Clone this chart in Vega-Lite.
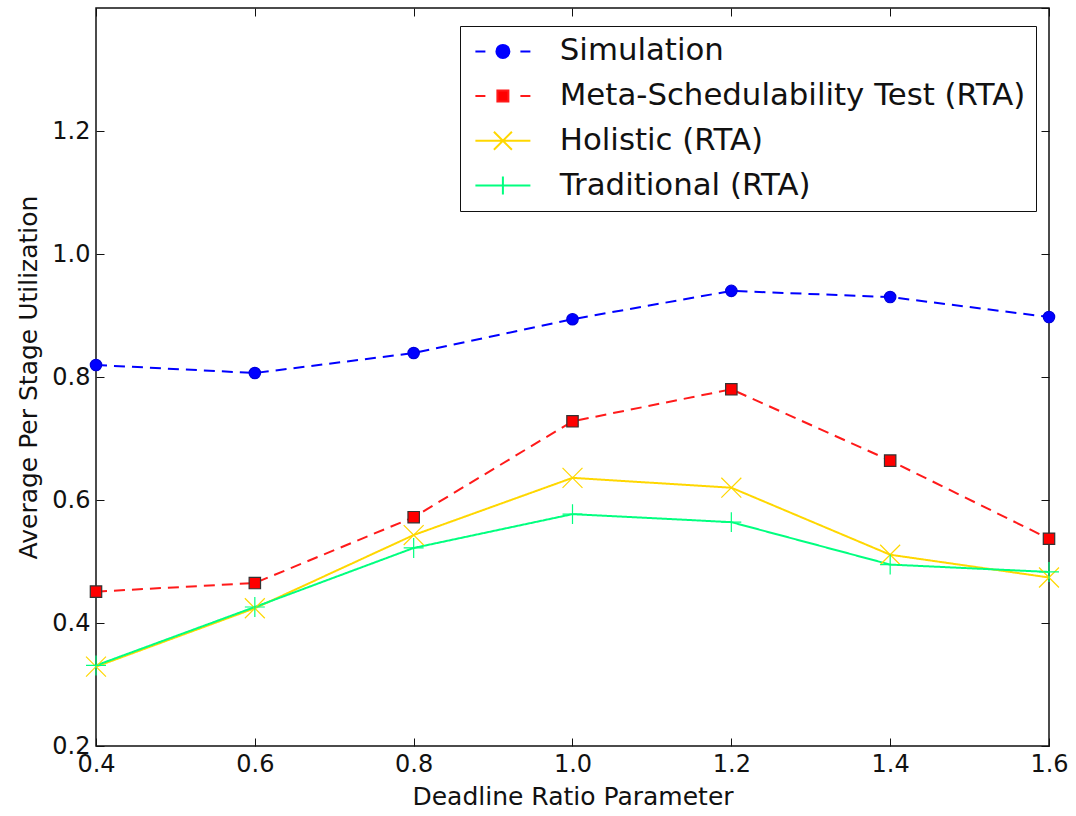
{
  "$schema": "https://vega.github.io/schema/vega-lite/v6.json",
  "width": 953,
  "height": 738,
  "autosize": {"type": "none"},
  "padding": {"left": 96, "top": 8, "right": 27, "bottom": 70},
  "background": "white",
  "config": {
    "view": {"stroke": "#111", "strokeWidth": 1.5},
    "font": "DejaVu Sans",
    "axis": {
      "domain": false, "grid": false, "tickSize": -8, "tickColor": "#111", "tickWidth": 1, "labelFlush": false,
      "labelFont": "DejaVu Sans", "labelFontSize": 24, "labelColor": "#111",
      "titleFont": "DejaVu Sans", "titleFontSize": 25, "titleFontWeight": "normal", "titleColor": "#111"
    },
    "legend": {
      "orient": "none", "legendX": 364, "legendY": 18, "padding": 10,
      "strokeColor": "#111", "fillColor": "white", "cornerRadius": 0,
      "labelFont": "DejaVu Sans", "labelFontSize": 30.8, "labelColor": "#111", "labelLimit": 700,
      "labelOffset": 59, "rowPadding": 12.7, "symbolSize": 400, "symbolStrokeWidth": 2, "symbolOpacity": 1,
      "title": null
    }
  },
  "data": {"values": [
    {"series": "Simulation", "x": 0.4, "y": 0.8195},
    {"series": "Simulation", "x": 0.6, "y": 0.8065},
    {"series": "Simulation", "x": 0.8, "y": 0.839},
    {"series": "Simulation", "x": 1.0, "y": 0.894},
    {"series": "Simulation", "x": 1.2, "y": 0.940},
    {"series": "Simulation", "x": 1.4, "y": 0.930},
    {"series": "Simulation", "x": 1.6, "y": 0.8975},
    {"series": "Meta-Schedulability Test (RTA)", "x": 0.4, "y": 0.451},
    {"series": "Meta-Schedulability Test (RTA)", "x": 0.6, "y": 0.465},
    {"series": "Meta-Schedulability Test (RTA)", "x": 0.8, "y": 0.572},
    {"series": "Meta-Schedulability Test (RTA)", "x": 1.0, "y": 0.728},
    {"series": "Meta-Schedulability Test (RTA)", "x": 1.2, "y": 0.780},
    {"series": "Meta-Schedulability Test (RTA)", "x": 1.4, "y": 0.664},
    {"series": "Meta-Schedulability Test (RTA)", "x": 1.6, "y": 0.537},
    {"series": "Holistic (RTA)", "x": 0.4, "y": 0.329},
    {"series": "Holistic (RTA)", "x": 0.6, "y": 0.424},
    {"series": "Holistic (RTA)", "x": 0.8, "y": 0.543},
    {"series": "Holistic (RTA)", "x": 1.0, "y": 0.636},
    {"series": "Holistic (RTA)", "x": 1.2, "y": 0.620},
    {"series": "Holistic (RTA)", "x": 1.4, "y": 0.511},
    {"series": "Holistic (RTA)", "x": 1.6, "y": 0.474},
    {"series": "Traditional (RTA)", "x": 0.4, "y": 0.331},
    {"series": "Traditional (RTA)", "x": 0.6, "y": 0.426},
    {"series": "Traditional (RTA)", "x": 0.8, "y": 0.522},
    {"series": "Traditional (RTA)", "x": 1.0, "y": 0.577},
    {"series": "Traditional (RTA)", "x": 1.2, "y": 0.564},
    {"series": "Traditional (RTA)", "x": 1.4, "y": 0.495},
    {"series": "Traditional (RTA)", "x": 1.6, "y": 0.483}
  ]},
  "resolve": {
    "scale": {"stroke": "independent", "fill": "independent", "shape": "independent", "strokeDash": "independent"},
    "axis": {"x": "independent", "y": "independent"}
  },
  "layer": [
    {
      "mark": {"type": "line", "strokeWidth": 2, "clip": true},
      "encoding": {
        "x": {"field": "x", "type": "quantitative",
              "scale": {"domain": [0.4, 1.6], "nice": false, "zero": false},
              "axis": {"orient": "bottom", "values": [0.4, 0.6, 0.8, 1.0, 1.2, 1.4, 1.6], "format": ".1f", "labelPadding": 14, "title": "Deadline Ratio Parameter", "titlePadding": 8}},
        "y": {"field": "y", "type": "quantitative",
              "scale": {"domain": [0.2, 1.4], "nice": false, "zero": false},
              "axis": {"orient": "left", "values": [0.2, 0.4, 0.6, 0.8, 1.0, 1.2], "format": ".1f", "labelPadding": 14, "title": "Average Per Stage Utilization", "titlePadding": 10}},
        "stroke": {"field": "series", "type": "nominal", "legend": null,
                   "scale": {"domain": ["Simulation", "Meta-Schedulability Test (RTA)", "Holistic (RTA)", "Traditional (RTA)"],
                             "range": ["#0000ff", "#ff1a1a", "#ffd700", "#00ff7f"]}},
        "strokeDash": {"field": "series", "type": "nominal", "legend": null,
                       "scale": {"domain": ["Simulation", "Meta-Schedulability Test (RTA)", "Holistic (RTA)", "Traditional (RTA)"],
                                 "range": [[11, 7], [11, 7], [1, 0], [1, 0]]}}
      }
    },
    {
      "mark": {"type": "point", "strokeWidth": 1.2, "opacity": 1, "size": 130, "clip": false},
      "encoding": {
        "x": {"field": "x", "type": "quantitative", "axis": null},
        "y": {"field": "y", "type": "quantitative", "axis": null},
        "shape": {"field": "series", "type": "nominal", "legend": null,
                  "scale": {"domain": ["Simulation", "Meta-Schedulability Test (RTA)", "Holistic (RTA)", "Traditional (RTA)"],
                            "range": ["circle", "square", "M-1.75,-1.75L1.75,1.75M-1.75,1.75L1.75,-1.75", "M-1.75,0H1.75M0,-1.75V1.75"]}},
        "fill": {"field": "series", "type": "nominal", "legend": null,
                 "scale": {"domain": ["Simulation", "Meta-Schedulability Test (RTA)", "Holistic (RTA)", "Traditional (RTA)"],
                           "range": ["#0000ff", "#ff0000", "transparent", "transparent"]}},
        "stroke": {"field": "series", "type": "nominal", "legend": null,
                   "scale": {"domain": ["Simulation", "Meta-Schedulability Test (RTA)", "Holistic (RTA)", "Traditional (RTA)"],
                             "range": ["#0000dd", "#333333", "#ffd700", "#00ff7f"]}}
      }
    },
    {
      "mark": {"type": "point", "size": 400, "opacity": 0},
      "encoding": {
        "x": {"field": "x", "type": "quantitative",
              "axis": {"orient": "top", "values": [0.4, 0.6, 0.8, 1.0, 1.2, 1.4, 1.6], "labels": false, "title": null}},
        "y": {"field": "y", "type": "quantitative",
              "axis": {"orient": "right", "values": [0.2, 0.4, 0.6, 0.8, 1.0, 1.2, 1.4], "labels": false, "title": null}},
        "shape": {"field": "series", "type": "nominal",
                  "scale": {"domain": ["Simulation", "Meta-Schedulability Test (RTA)", "Holistic (RTA)", "Traditional (RTA)"],
                            "range": ["M-1,0H0M3.5,0H4.5M1.1,0A0.65,0.65,0,1,1,2.4,0A0.65,0.65,0,1,1,1.1,0Z",
                                      "M-1,0H0M3.5,0H4.5M1.2,-0.55H2.3V0.55H1.2Z",
                                      "M-1,0H4.5M0.85,-0.9L2.65,0.9M0.85,0.9L2.65,-0.9",
                                      "M-1,0H4.5M1.75,-0.9V0.9"]}},
        "fill": {"field": "series", "type": "nominal",
                 "scale": {"domain": ["Simulation", "Meta-Schedulability Test (RTA)", "Holistic (RTA)", "Traditional (RTA)"],
                           "range": ["#0000ff", "#ff0000", "transparent", "transparent"]}},
        "stroke": {"field": "series", "type": "nominal",
                   "scale": {"domain": ["Simulation", "Meta-Schedulability Test (RTA)", "Holistic (RTA)", "Traditional (RTA)"],
                             "range": ["#0000ff", "#ff1a1a", "#ffd700", "#00ff7f"]}}
      }
    }
  ]
}
